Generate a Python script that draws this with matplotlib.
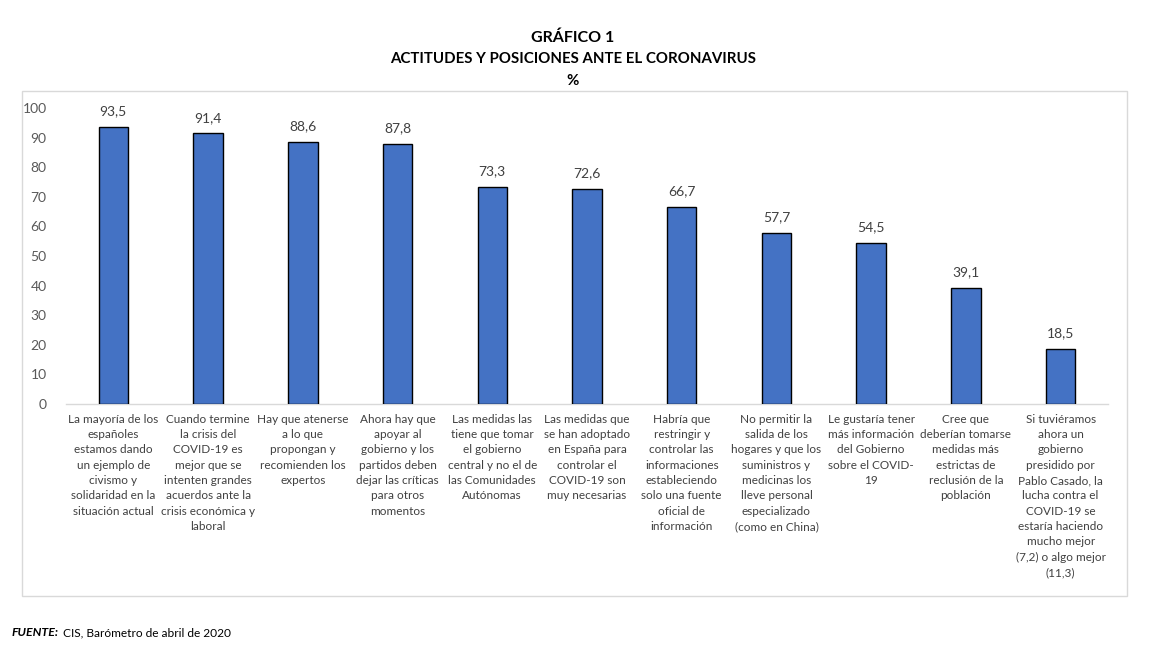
import matplotlib
matplotlib.use("Agg")
import matplotlib.pyplot as plt
from matplotlib.patches import Rectangle

plt.rcParams['font.family'] = ['Lato', 'DejaVu Sans']

categories = [
    "La mayoría de los\nespañoles\nestamos dando\nun ejemplo de\ncivismo y\nsolidaridad en la\nsituación actual",
    "Cuando termine\nla crisis del\nCOVID-19 es\nmejor que se\nintenten grandes\nacuerdos ante la\ncrisis económica y\nlaboral",
    "Hay que atenerse\na lo que\npropongan y\nrecomienden los\nexpertos",
    "Ahora hay que\napoyar al\ngobierno y los\npartidos deben\ndejar las críticas\npara otros\nmomentos",
    "Las medidas las\ntiene que tomar\nel gobierno\ncentral y no el de\nlas Comunidades\nAutónomas",
    "Las medidas que\nse han adoptado\nen España para\ncontrolar el\nCOVID-19 son\nmuy necesarias",
    "Habría que\nrestringir y\ncontrolar las\ninformaciones\nestableciendo\nsolo una fuente\noficial de\ninformación",
    "No permitir la\nsalida de los\nhogares y que los\nsuministros y\nmedicinas los\nlleve personal\nespecializado\n(como en China)",
    "Le gustaría tener\nmás información\ndel Gobierno\nsobre el COVID-\n19",
    "Cree que\ndeberían tomarse\nmedidas más\nestrictas de\nreclusión de la\npoblación",
    "Si tuviéramos\nahora un\ngobierno\npresidido por\nPablo Casado, la\nlucha contra el\nCOVID-19 se\nestaría haciendo\nmucho mejor\n(7,2) o algo mejor\n(11,3)",
]
values = [93.5, 91.4, 88.6, 87.8, 73.3, 72.6, 66.7, 57.7, 54.5, 39.1, 18.5]
yticks = [0, 10, 20, 30, 40, 50, 60, 70, 80, 90, 100]

W, H = 1153, 648
fig = plt.figure(figsize=(W / 100, H / 100), dpi=100)
fig.patch.set_facecolor("white")

# outer chart frame
fig.add_artist(Rectangle((22 / W, 1 - 596 / H), (1127 - 22) / W, (596 - 91) / H,
                         transform=fig.transFigure, fill=False,
                         edgecolor="#d9d9d9", linewidth=1.0))

ax = fig.add_axes([66 / W, 1 - 404 / H, (1108 - 66) / W, (404 - 108) / H])
x = list(range(len(values)))
ax.bar(x, values, width=0.31, color="#4472c4", edgecolor="black", linewidth=1.0, zorder=3)

ax.set_xlim(-0.5, len(values) - 0.5)
ax.set_ylim(0, 100)
ax.set_yticks(yticks)
ax.set_yticklabels([str(t) for t in yticks], fontsize=10, color="#595959")
ax.tick_params(axis="y", length=0, pad=14)
ax.tick_params(axis="x", length=0, pad=7)
ax.set_xticks(x)
ax.set_xticklabels(categories, fontsize=8.5, color="#404040", linespacing=1.48, va="top")

for s in ["top", "right", "left"]:
    ax.spines[s].set_visible(False)
ax.spines["bottom"].set_color("#d9d9d9")
ax.spines["bottom"].set_linewidth(1.0)

for xi, v in zip(x, values):
    ax.annotate(f"{v:.1f}".replace(".", ","), (xi, v), xytext=(0, 7),
                textcoords="offset points", ha="center", va="bottom",
                fontsize=10, color="#404040")

fig.text(573 / W, 1 - 38 / H, "GRÁFICO 1", ha="center", va="center",
         fontsize=11.5, fontweight="bold", color="black")
fig.text(573 / W, 1 - 59 / H, "ACTITUDES Y POSICIONES ANTE EL CORONAVIRUS", ha="center",
         va="center", fontsize=10.8, fontweight="bold", color="black")
fig.text(573 / W, 1 - 81 / H, "%", ha="center", va="center",
         fontsize=10.8, fontweight="bold", color="black")

t1 = fig.text(12 / W, 1 - 633 / H, "FUENTE:", ha="left", va="center",
              fontsize=8.8, fontweight="bold", fontstyle="italic", color="black")
ax.annotate("CIS, Barómetro de abril de 2020", xy=(1, 0.5), xycoords=t1,
            xytext=(3, 0), textcoords="offset points",
            ha="left", va="center", fontsize=8.6, color="black", annotation_clip=False)

fig.savefig("out.png", dpi=100)
